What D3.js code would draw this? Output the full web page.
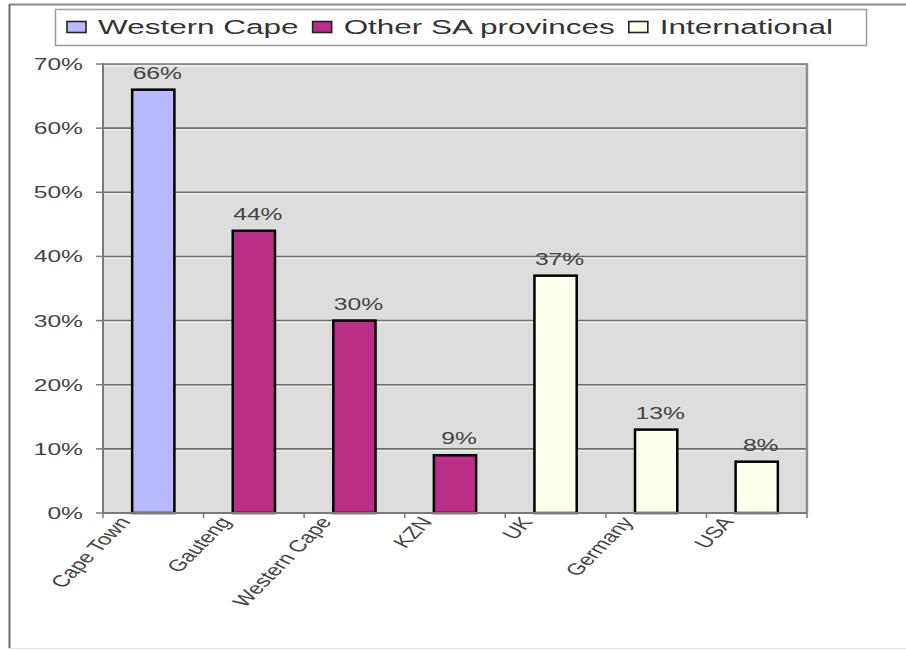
<!DOCTYPE html>
<html>
<head>
<meta charset="utf-8">
<style>
  body { margin: 0; background: #fff; }
  svg { display: block; font-family: 'Liberation Sans', Arial, sans-serif; }
</style>
</head>
<body>
<svg width="906" height="650"></svg>
<script src="https://d3js.org/d3.v7.min.js"></script>
<script>
// chart values
const categories = ["Cape Town", "Gauteng", "Western Cape", "KZN", "UK", "Germany", "USA"];
const values = [66, 44, 30, 9, 37, 13, 8];
const categoryGroup = ["Western Cape", "Other SA provinces", "Other SA provinces", "Other SA provinces",
                       "International", "International", "International"];
const seriesNames = ["Western Cape", "Other SA provinces", "International"];
const seriesColors = ["#b9b9ff", "#ba2e88", "#ffffee"];
const yTicks = [0, 10, 20, 30, 40, 50, 60, 70];

// the source picture is stretched sideways, so text gets a horizontal scale
const SX = 1.45;

const svg = d3.select("svg");
const plotLeft = 103, plotRight = 807, plotTop = 64, plotBottom = 513;

// outer frame
svg.append("line").attr("x1", 9).attr("x2", 906).attr("y1", 4.5).attr("y2", 4.5)
    .style("stroke", "#8a8a8a").style("stroke-width", 2);
svg.append("line").attr("x1", 9.5).attr("x2", 9.5).attr("y1", 4).attr("y2", 648)
    .style("stroke", "#6f6478").style("stroke-width", 2);
svg.append("line").attr("x1", 9).attr("x2", 906).attr("y1", 648.5).attr("y2", 648.5)
    .style("stroke", "#e2e2e2").style("stroke-width", 1);

let x = d3.scaleBand()
    .domain(categories)
    .range([plotLeft, plotRight])
    .paddingInner(0.58)
    .paddingOuter(0.29);

let y = d3.scaleLinear()
    .domain([0, 70])
    .range([plotBottom, plotTop]);

let color = d3.scaleOrdinal().domain(seriesNames).range(seriesColors);

// plot area
svg.append("rect")
    .attr("x", plotLeft).attr("y", plotTop)
    .attr("width", plotRight - plotLeft).attr("height", plotBottom - plotTop)
    .style("fill", "#dddddd");

// gridlines: dark line with a light line under it
svg.selectAll(".grid")
    .data(yTicks.filter(d => d > 0))
    .join("line")
    .attr("x1", plotLeft).attr("x2", plotRight)
    .attr("y1", d => y(d)).attr("y2", d => y(d))
    .style("stroke", "#6f6f6f").style("stroke-width", 1.6);
svg.selectAll(".grid-light")
    .data(yTicks.filter(d => d > 0))
    .join("line")
    .attr("x1", plotLeft).attr("x2", plotRight - 2)
    .attr("y1", d => y(d) + 1.8).attr("y2", d => y(d) + 1.8)
    .style("stroke", "#f3f3e3").style("stroke-width", 1.2);

// right border of the plot
svg.append("line").attr("x1", plotRight).attr("x2", plotRight).attr("y1", plotTop - 1).attr("y2", plotBottom)
    .style("stroke", "#8e8e8e").style("stroke-width", 2.5);

// bars
svg.selectAll(".bar")
    .data(values)
    .join("rect")
    .attr("x", (d, i) => x(categories[i]))
    .attr("y", d => y(d))
    .attr("width", x.bandwidth())
    .attr("height", d => y(0) - y(d))
    .style("fill", (d, i) => color(categoryGroup[i]))
    .style("stroke", "#000")
    .style("stroke-width", 2.5);

// value labels
svg.selectAll(".value")
    .data(values)
    .join("text")
    .attr("transform", (d, i) => `translate(${x(categories[i]) + x.bandwidth() / 2 + 4},${y(d) - 11}) scale(${SX},1)`)
    .attr("text-anchor", "middle")
    .style("font-size", "17px")
    .style("fill", "#444")
    .text(d => d + "%");

// y axis
svg.append("line").attr("x1", plotLeft).attr("x2", plotLeft).attr("y1", plotTop - 1).attr("y2", plotBottom)
    .style("stroke", "#7a7a7a").style("stroke-width", 2);
svg.selectAll(".ytick")
    .data(yTicks)
    .join("line")
    .attr("x1", plotLeft - 7).attr("x2", plotLeft)
    .attr("y1", d => y(d)).attr("y2", d => y(d))
    .style("stroke", "#7a7a7a").style("stroke-width", 1.5);
svg.selectAll(".ylabel")
    .data(yTicks)
    .join("text")
    .attr("transform", d => `translate(83,${y(d) + 6}) scale(${SX},1)`)
    .attr("text-anchor", "end")
    .style("font-size", "17px")
    .style("fill", "#444")
    .text(d => d + "%");

// x axis
svg.append("line").attr("x1", plotLeft).attr("x2", plotRight).attr("y1", plotBottom).attr("y2", plotBottom)
    .style("stroke", "#7a7a7a").style("stroke-width", 2);
let xBounds = categories.map(c => x(c) - x.step() * x.paddingInner() / 2).concat([plotRight]);
svg.selectAll(".xtick")
    .data(xBounds)
    .join("line")
    .attr("x1", d => d).attr("x2", d => d)
    .attr("y1", plotBottom).attr("y2", plotBottom + 5)
    .style("stroke", "#7a7a7a").style("stroke-width", 1.5);
svg.selectAll(".xlabel")
    .data(categories)
    .join("text")
    .attr("transform", d => `translate(${x(d) + x.bandwidth() / 2 - 22},522) scale(${SX},1) rotate(-55)`)
    .attr("text-anchor", "end")
    .style("font-size", "16.5px")
    .style("fill", "#444")
    .text(d => d);

// legend
let legend = svg.append("g");
legend.append("rect")
    .attr("x", 55.5).attr("y", 9.5).attr("width", 811).attr("height", 36)
    .style("fill", "#fff").style("stroke", "#9a9a9a").style("stroke-width", 1.5);

let lx = 67;
seriesNames.forEach(function (name, i) {
    legend.append("rect")
        .attr("x", lx).attr("y", 21.5).attr("width", 19).attr("height", 11)
        .style("fill", seriesColors[i]).style("stroke", "#222").style("stroke-width", 1.6);
    let t = legend.append("text")
        .attr("transform", `translate(${lx + 31},34) scale(1.5,1)`)
        .style("font-size", "21px")
        .style("fill", "#333")
        .text(name);
    lx = lx + 31 + t.node().getComputedTextLength() * 1.5 + 14;
});
</script>
</body>
</html>
